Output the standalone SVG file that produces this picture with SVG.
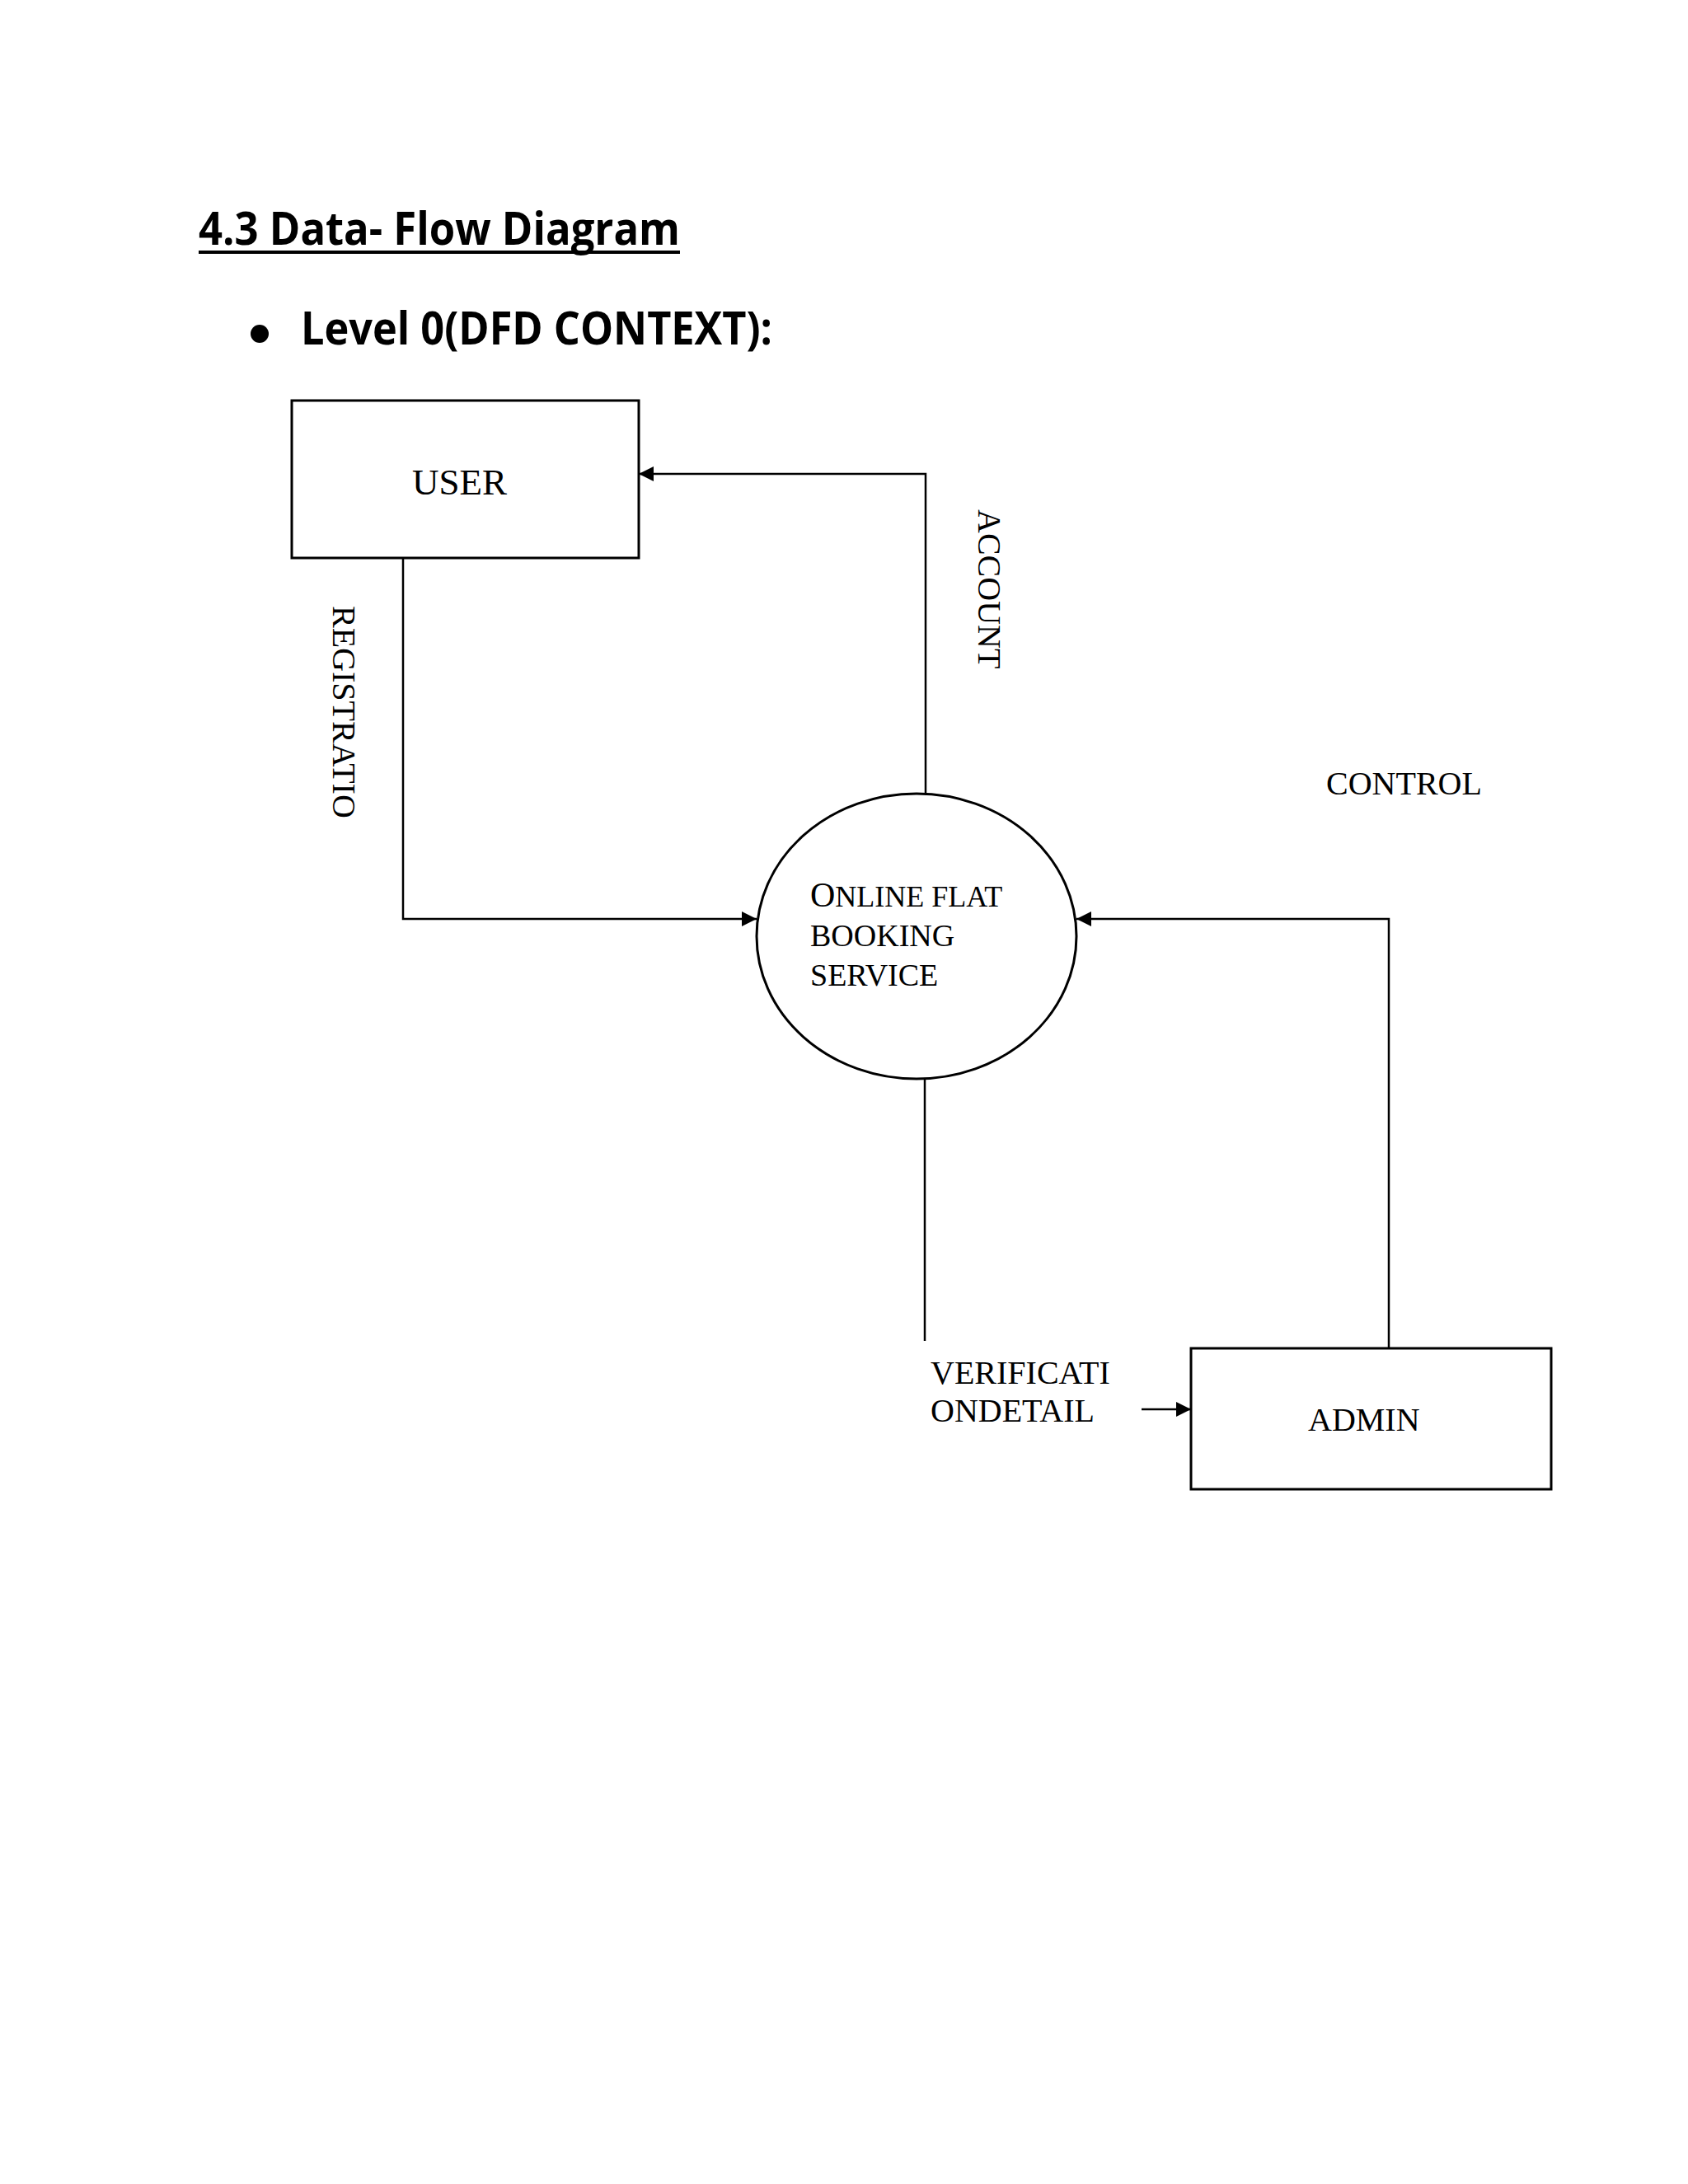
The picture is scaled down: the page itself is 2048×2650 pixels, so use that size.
<svg xmlns="http://www.w3.org/2000/svg" width="2048" height="2650" viewBox="0 0 2048 2650">
<defs>
<style>
.h{font-family:"Open Sans","Liberation Sans",sans-serif;font-weight:bold;fill:#000}
.t{font-family:"Liberation Serif",serif;fill:#000}
.box{fill:#fff;stroke:#000;stroke-width:3}
.ln{fill:none;stroke:#000;stroke-width:2.5}
</style>
<marker id="ah" viewBox="0 0 10 10" refX="10" refY="5" markerWidth="7" markerHeight="7" markerUnits="userSpaceOnUse" orient="auto"><path d="M0,0 L10,5 L0,10 z" fill="#000"/></marker>
<marker id="ah2" viewBox="0 0 10 10" refX="10" refY="5" markerWidth="18" markerHeight="18" markerUnits="userSpaceOnUse" orient="auto"><path d="M0,0 L10,5 L0,10 z" fill="#000"/></marker>
</defs>
<rect width="2048" height="2650" fill="#fff"/>
<g id="heading">
<text class="h" x="241" y="297" font-size="56" textLength="584" lengthAdjust="spacingAndGlyphs">4.3 Data- Flow Diagram</text>
<line x1="241" y1="306" x2="825" y2="306" stroke="#000" stroke-width="4"/>
<circle cx="315" cy="405" r="11" fill="#000"/>
<text class="h" x="365" y="418" font-size="56" textLength="572" lengthAdjust="spacingAndGlyphs">Level 0(DFD CONTEXT):</text>
</g>
<g id="connectors">
<polyline class="ln" points="1123,962 1123,575 775,575" marker-end="url(#ah2)"/>
<polyline class="ln" points="489,677 489,1115 918,1115" marker-end="url(#ah2)"/>
<polyline class="ln" points="1685,1636 1685,1115 1306,1115" marker-end="url(#ah2)"/>
<line class="ln" x1="1122" y1="1309" x2="1122" y2="1627"/>
<line class="ln" x1="1385" y1="1710" x2="1445" y2="1710" marker-end="url(#ah2)"/>
<text class="t" font-size="40" transform="translate(404,735) rotate(90)">REGISTRATIO</text>
<text class="t" font-size="40" transform="translate(1187,618) rotate(90)">ACCOUNT</text>
<text class="t" font-size="40" x="1609" y="964">CONTROL</text>
<text class="t" font-size="40" x="1129" y="1679">VERIFICATI</text>
<text class="t" font-size="40" x="1129" y="1725">ONDETAIL</text>
</g>
<g id="user">
<rect class="box" x="354" y="486" width="421" height="191"/>
<text class="t" font-size="45" x="500" y="600">USER</text>
</g>
<g id="process">
<ellipse class="box" cx="1112" cy="1136" rx="194" ry="173"/>
<text class="t" x="983" y="1100" font-size="42">O<tspan font-size="36">NLINE FLAT</tspan></text>
<text class="t" x="983" y="1148" font-size="38">BOOKING</text>
<text class="t" x="983" y="1196" font-size="38">SERVICE</text>
</g>
<g id="admin">
<rect class="box" x="1445" y="1636" width="437" height="171"/>
<text class="t" font-size="40" x="1587" y="1736">ADMIN</text>
</g>
</svg>
